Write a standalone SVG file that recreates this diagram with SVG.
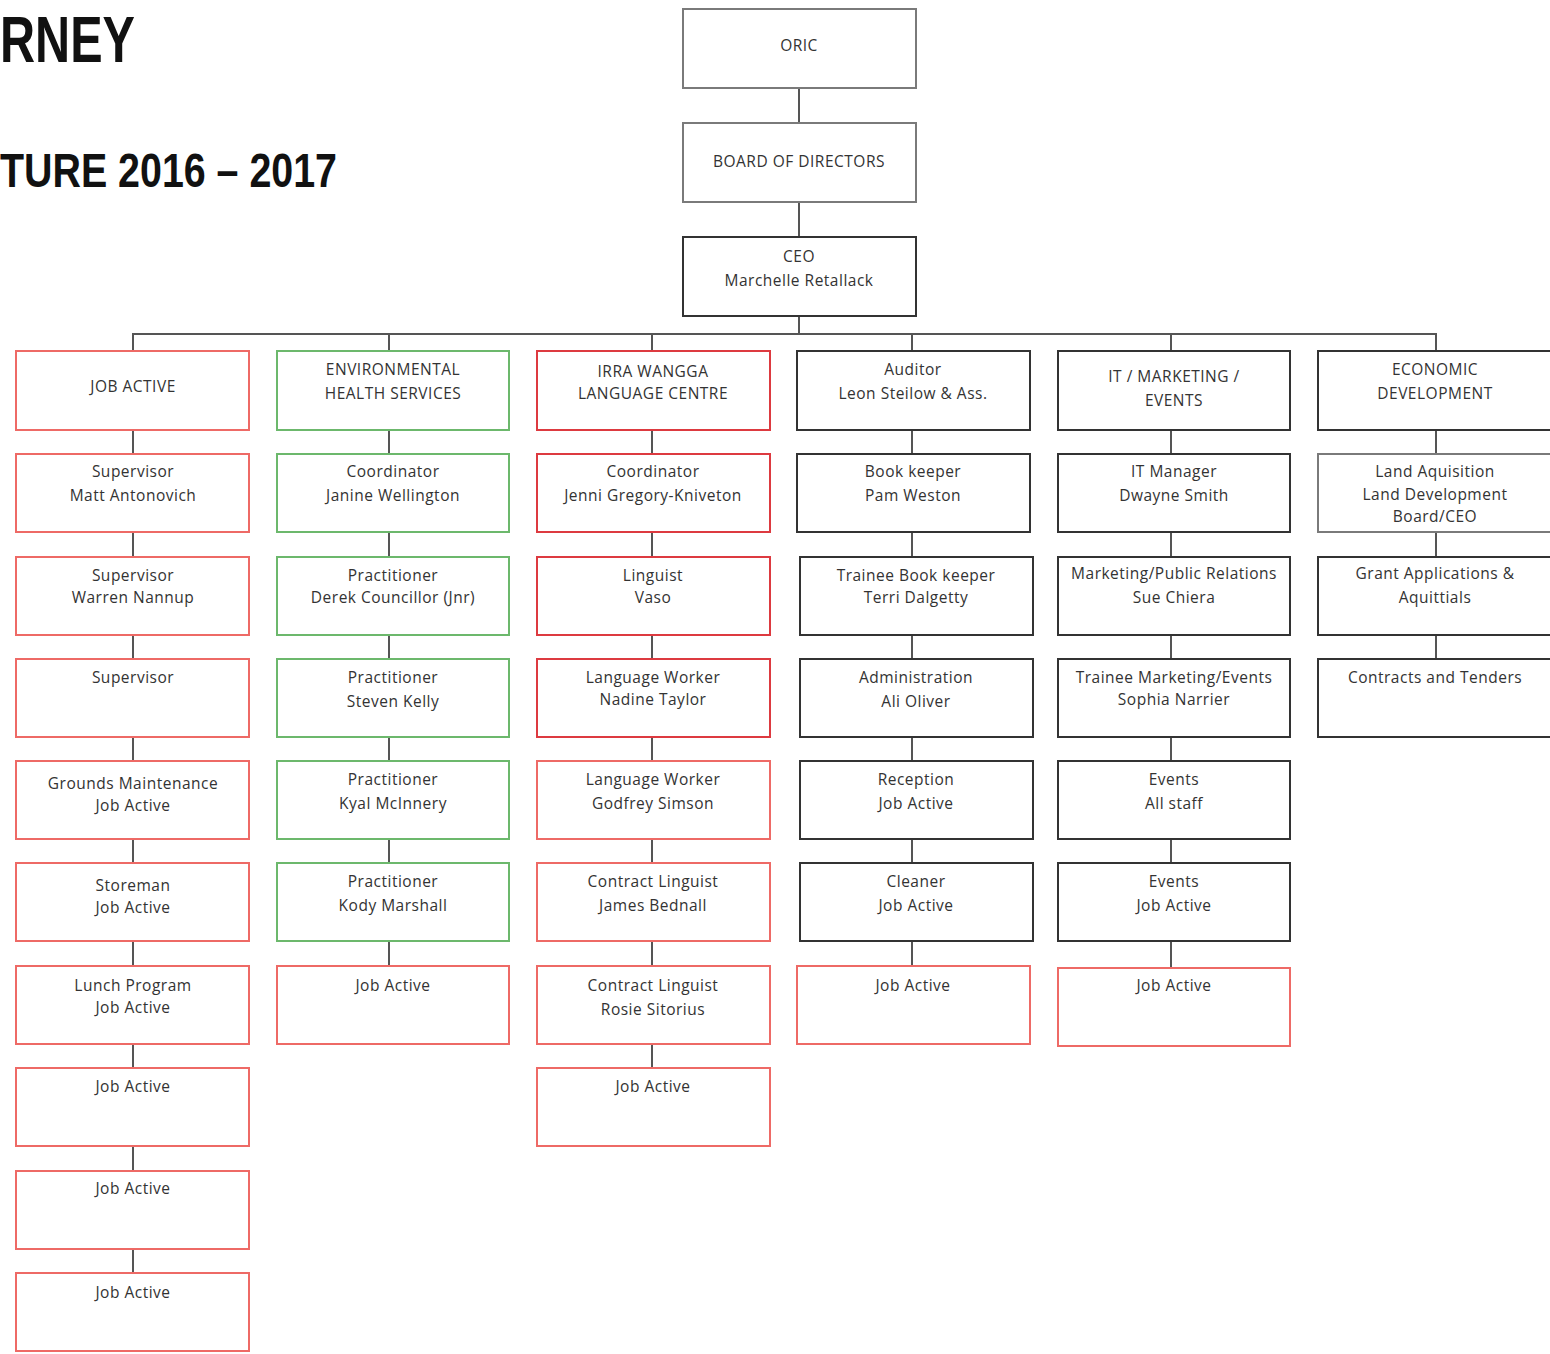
<svg xmlns="http://www.w3.org/2000/svg" width="1550" height="1354" viewBox="0 0 1550 1354">
<style>
rect{fill:#fff;stroke-width:2}
.g{stroke:#7a7a7a}
.k{stroke:#333}
.r{stroke:#ee6a66}
.rr{stroke:#dd3a40}
.gr{stroke:#6cb86c}
text{font-family:"Open Sans","Noto Sans",sans-serif;font-size:15.5px;letter-spacing:0.5px;fill:#333;text-anchor:middle}
text.t{font-family:"Liberation Sans",Arial,sans-serif;font-weight:bold;fill:#111;text-anchor:start;letter-spacing:0}
.c line{stroke:#555;stroke-width:2}
</style>
<rect x="0" y="0" width="1550" height="1354" style="fill:#fff;stroke:none"/>
<text class="t" x="0" y="62" style="font-size:64px" textLength="135" lengthAdjust="spacingAndGlyphs">RNEY</text>
<text class="t" x="0" y="187" style="font-size:48px" textLength="337" lengthAdjust="spacingAndGlyphs">TURE 2016 – 2017</text>

<g class="c">
<line x1="799" y1="88" x2="799" y2="123"/>
<line x1="799" y1="202" x2="799" y2="237"/>
<line x1="799" y1="316" x2="799" y2="334"/>
<line x1="132" y1="334" x2="1437" y2="334"/>
<line x1="133" y1="334" x2="133" y2="351"/>
<line x1="389" y1="334" x2="389" y2="351"/>
<line x1="652" y1="334" x2="652" y2="351"/>
<line x1="912" y1="334" x2="912" y2="351"/>
<line x1="1171" y1="334" x2="1171" y2="351"/>
<line x1="1436" y1="334" x2="1436" y2="351"/>
<line x1="133" y1="430" x2="133" y2="1273"/>
<line x1="389" y1="430" x2="389" y2="966"/>
<line x1="652" y1="430" x2="652" y2="1068"/>
<line x1="912" y1="430" x2="912" y2="966"/>
<line x1="1171" y1="430" x2="1171" y2="968"/>
<line x1="1436" y1="430" x2="1436" y2="659"/>
</g>

<g id="oric"><rect class="g" x="683" y="9" width="233" height="79"/><text x="799" y="51">ORIC</text></g>
<g id="board"><rect class="g" x="683" y="123" width="233" height="79"/><text x="799" y="167">BOARD OF DIRECTORS</text></g>
<g id="ceo"><rect class="k" x="683" y="237" width="233" height="79"/><text x="799" y="262">CEO</text><text x="799" y="286">Marchelle Retallack</text></g>

<!-- Column 1 -->
<g id="c1r1"><rect class="r" x="16" y="351" width="233" height="79"/><text x="133" y="392">JOB ACTIVE</text></g>
<g id="c1r2"><rect class="r" x="16" y="454" width="233" height="78"/><text x="133" y="477">Supervisor</text><text x="133" y="501">Matt Antonovich</text></g>
<g id="c1r3"><rect class="r" x="16" y="557" width="233" height="78"/><text x="133" y="581">Supervisor</text><text x="133" y="603">Warren Nannup</text></g>
<g id="c1r4"><rect class="r" x="16" y="659" width="233" height="78"/><text x="133" y="683">Supervisor</text></g>
<g id="c1r5"><rect class="r" x="16" y="761" width="233" height="78"/><text x="133" y="789">Grounds Maintenance</text><text x="133" y="811">Job Active</text></g>
<g id="c1r6"><rect class="r" x="16" y="863" width="233" height="78"/><text x="133" y="891">Storeman</text><text x="133" y="913">Job Active</text></g>
<g id="c1r7"><rect class="r" x="16" y="966" width="233" height="78"/><text x="133" y="991">Lunch Program</text><text x="133" y="1013">Job Active</text></g>
<g id="c1r8"><rect class="r" x="16" y="1068" width="233" height="78"/><text x="133" y="1092">Job Active</text></g>
<g id="c1r9"><rect class="r" x="16" y="1171" width="233" height="78"/><text x="133" y="1194">Job Active</text></g>
<g id="c1r10"><rect class="r" x="16" y="1273" width="233" height="78"/><text x="133" y="1298">Job Active</text></g>

<!-- Column 2 -->
<g id="c2r1"><rect class="gr" x="277" y="351" width="232" height="79"/><text x="393" y="375">ENVIRONMENTAL</text><text x="393" y="399">HEALTH SERVICES</text></g>
<g id="c2r2"><rect class="gr" x="277" y="454" width="232" height="78"/><text x="393" y="477">Coordinator</text><text x="393" y="501">Janine Wellington</text></g>
<g id="c2r3"><rect class="gr" x="277" y="557" width="232" height="78"/><text x="393" y="581">Practitioner</text><text x="393" y="603">Derek Councillor (Jnr)</text></g>
<g id="c2r4"><rect class="gr" x="277" y="659" width="232" height="78"/><text x="393" y="683">Practitioner</text><text x="393" y="707">Steven Kelly</text></g>
<g id="c2r5"><rect class="gr" x="277" y="761" width="232" height="78"/><text x="393" y="785">Practitioner</text><text x="393" y="809">Kyal McInnery</text></g>
<g id="c2r6"><rect class="gr" x="277" y="863" width="232" height="78"/><text x="393" y="887">Practitioner</text><text x="393" y="911">Kody Marshall</text></g>
<g id="c2r7"><rect class="r" x="277" y="966" width="232" height="78"/><text x="393" y="991">Job Active</text></g>

<!-- Column 3 -->
<g id="c3r1"><rect class="rr" x="537" y="351" width="233" height="79"/><text x="653" y="377">IRRA WANGGA</text><text x="653" y="399">LANGUAGE CENTRE</text></g>
<g id="c3r2"><rect class="rr" x="537" y="454" width="233" height="78"/><text x="653" y="477">Coordinator</text><text x="653" y="501">Jenni Gregory-Kniveton</text></g>
<g id="c3r3"><rect class="rr" x="537" y="557" width="233" height="78"/><text x="653" y="581">Linguist</text><text x="653" y="603">Vaso</text></g>
<g id="c3r4"><rect class="rr" x="537" y="659" width="233" height="78"/><text x="653" y="683">Language Worker</text><text x="653" y="705">Nadine Taylor</text></g>
<g id="c3r5"><rect class="r" x="537" y="761" width="233" height="78"/><text x="653" y="785">Language Worker</text><text x="653" y="809">Godfrey Simson</text></g>
<g id="c3r6"><rect class="r" x="537" y="863" width="233" height="78"/><text x="653" y="887">Contract Linguist</text><text x="653" y="911">James Bednall</text></g>
<g id="c3r7"><rect class="r" x="537" y="966" width="233" height="78"/><text x="653" y="991">Contract Linguist</text><text x="653" y="1015">Rosie Sitorius</text></g>
<g id="c3r8"><rect class="r" x="537" y="1068" width="233" height="78"/><text x="653" y="1092">Job Active</text></g>

<!-- Column 4 -->
<g id="c4r1"><rect class="k" x="797" y="351" width="233" height="79"/><text x="913" y="375">Auditor</text><text x="913" y="399">Leon Steilow &amp; Ass.</text></g>
<g id="c4r2"><rect class="k" x="797" y="454" width="233" height="78"/><text x="913" y="477">Book keeper</text><text x="913" y="501">Pam Weston</text></g>
<g id="c4r3"><rect class="k" x="800" y="557" width="233" height="78"/><text x="916" y="581">Trainee Book keeper</text><text x="916" y="603">Terri Dalgetty</text></g>
<g id="c4r4"><rect class="k" x="800" y="659" width="233" height="78"/><text x="916" y="683">Administration</text><text x="916" y="707">Ali Oliver</text></g>
<g id="c4r5"><rect class="k" x="800" y="761" width="233" height="78"/><text x="916" y="785">Reception</text><text x="916" y="809">Job Active</text></g>
<g id="c4r6"><rect class="k" x="800" y="863" width="233" height="78"/><text x="916" y="887">Cleaner</text><text x="916" y="911">Job Active</text></g>
<g id="c4r7"><rect class="r" x="797" y="966" width="233" height="78"/><text x="913" y="991">Job Active</text></g>

<!-- Column 5 -->
<g id="c5r1"><rect class="k" x="1058" y="351" width="232" height="79"/><text x="1174" y="382">IT / MARKETING /</text><text x="1174" y="406">EVENTS</text></g>
<g id="c5r2"><rect class="k" x="1058" y="454" width="232" height="78"/><text x="1174" y="477">IT Manager</text><text x="1174" y="501">Dwayne Smith</text></g>
<g id="c5r3"><rect class="k" x="1058" y="557" width="232" height="78"/><text x="1174" y="579">Marketing/Public Relations</text><text x="1174" y="603">Sue Chiera</text></g>
<g id="c5r4"><rect class="k" x="1058" y="659" width="232" height="78"/><text x="1174" y="683">Trainee Marketing/Events</text><text x="1174" y="705">Sophia Narrier</text></g>
<g id="c5r5"><rect class="k" x="1058" y="761" width="232" height="78"/><text x="1174" y="785">Events</text><text x="1174" y="809">All staff</text></g>
<g id="c5r6"><rect class="k" x="1058" y="863" width="232" height="78"/><text x="1174" y="887">Events</text><text x="1174" y="911">Job Active</text></g>
<g id="c5r7"><rect class="r" x="1058" y="968" width="232" height="78"/><text x="1174" y="991">Job Active</text></g>

<!-- Column 6 -->
<g id="c6r1"><rect class="k" x="1318" y="351" width="234" height="79"/><text x="1435" y="375">ECONOMIC</text><text x="1435" y="399">DEVELOPMENT</text></g>
<g id="c6r2"><rect class="g" x="1318" y="454" width="234" height="78"/><text x="1435" y="477">Land Aquisition</text><text x="1435" y="500">Land Development</text><text x="1435" y="522">Board/CEO</text></g>
<g id="c6r3"><rect class="k" x="1318" y="557" width="234" height="78"/><text x="1435" y="579">Grant Applications &amp;</text><text x="1435" y="603">Aquittials</text></g>
<g id="c6r4"><rect class="k" x="1318" y="659" width="234" height="78"/><text x="1435" y="683">Contracts and Tenders</text></g>
</svg>
